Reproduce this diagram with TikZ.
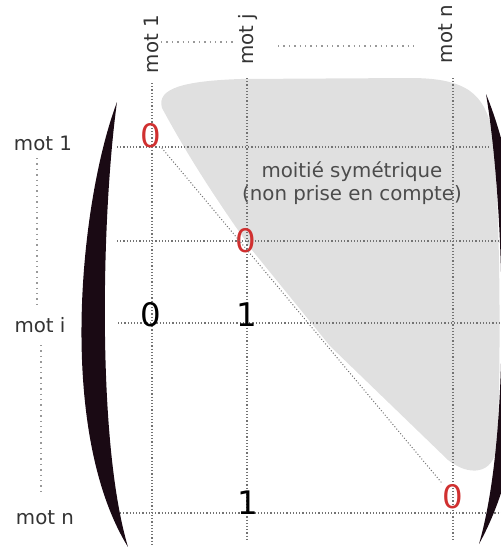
\documentclass[tikz,border=0pt]{standalone}
\usepackage{fontspec}
\setmainfont{DejaVu Sans}
\usetikzlibrary{positioning}
\definecolor{parencol}{HTML}{1A0A14}
\definecolor{zerored}{HTML}{D03030}

\begin{document}
\begin{tikzpicture}[
    x=0.5pt, y=-0.5pt,
    lbl/.style={font=\fontsize{9.9}{11}\selectfont, text=black!80, inner sep=0pt},
    cell/.style={font=\fontsize{16.2}{18}\selectfont, inner sep=0pt, anchor=base},
    zero/.style={cell, text=zerored},
    grid/.style={densely dotted, black!55, line width=0.6pt},
    etc/.style={dotted, black!40, line width=0.7pt},
    paren/.style={fill=parencol, draw=none},
]
\useasboundingbox (0,0) rectangle (501,547);
\clip (0,0) rectangle (501,547);

% ignored half of the matrix
\fill[black!12] (162,108) .. controls (156,88) and (185,81) .. (240,79)
    -- (410,78) .. controls (468,78) and (484,95) .. (492,130)
    .. controls (501,200) and (501,380) .. (497,445)
    .. controls (494,476) and (468,476) .. (448,460)
    -- (330,346) -- (252,250) .. controls (220,205) and (190,160) .. cycle;

% word labels
\node[lbl, rotate=90] (c1) at (151,44) {mot 1};
\node[lbl, rotate=90] (cj) at (248,39) {mot j};
\node[lbl, rotate=90] (cn) at (446,34) {mot n};
\node[lbl] (r1) at (43,143) {mot 1};
\node[lbl] (ri) at (40,325) {mot i};
\node[lbl] (rn) at (45,518) {mot n};

% ends of the grid lines
\coordinate (v1t) at (152,83);  \coordinate (v1b) at (152,547);
\coordinate (vjt) at (247,78);  \coordinate (vjb) at (247,540);
\coordinate (vnt) at (453,78);  \coordinate (vnb) at (453,540);
\coordinate (h1l) at (117,147); \coordinate (h1r) at (490,147);
\coordinate (h2l) at (117,241); \coordinate (h2r) at (501,241);
\coordinate (hil) at (118,323); \coordinate (hir) at (501,323);
\coordinate (hnl) at (120,513); \coordinate (hnr) at (501,513);

\draw[grid] (v1t) -- (v1b);
\draw[grid] (vjt) -- (vjb);
\draw[grid] (vnt) -- (vnb);
\draw[grid] (h1l) -- (h1r);
\draw[grid] (h2l) -- (h2r);
\draw[grid] (hil) -- (hir);
\draw[grid] (hnl) -- (hnr);

% "..." between the labels
\draw[etc] (161,42) -- (235,42);
\draw[etc] (278,46) -- (418,46);
\draw[etc] (37,158) -- (37,305);
\draw[etc] (41,345) -- (41,493);

% entries
\node[zero] (e11) at (151,147) {0};
\node[zero] (ejj) at (246,252) {0};
\node[zero] (enn) at (453,508) {0};
\node[cell] (ei1) at (151,326) {0};
\node[cell] (eij) at (247,326) {1};
\node[cell] (enj) at (248,514) {1};

% diagonal
\draw[grid, line width=0.5pt] (e11.south east) -- (enn.north west);

\node[lbl, align=center, text=black!70, font=\fontsize{9.9}{11.6}\selectfont] (note) at (352,183)
    {moitié symétrique\\(non prise en compte)};

% brackets
\fill[paren] (117,102) .. controls (80,200) and (56,430) .. (128,547)
    .. controls (96,440) and (102,210) .. cycle;
\fill[paren] (486,94) .. controls (530,200) and (548,420) .. (479,544)
    .. controls (512,430) and (504,200) .. cycle;
\end{tikzpicture}
\end{document}
